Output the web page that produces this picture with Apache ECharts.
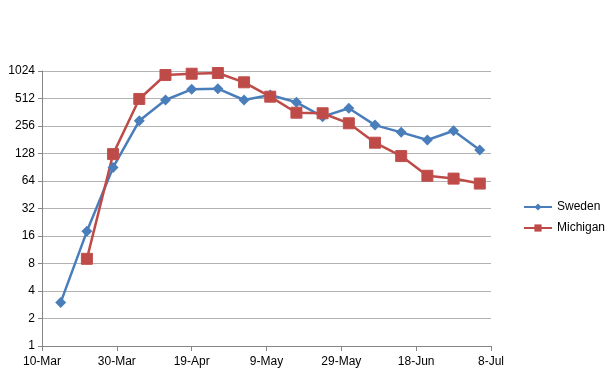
<!DOCTYPE html>
<html><head><meta charset="utf-8">
<script src="https://cdn.jsdelivr.net/npm/echarts@6/dist/echarts.min.js"></script>
<style>html,body{margin:0;padding:0;background:#fff}#c{width:606px;height:373px}</style>
</head><body><div id="c"></div>
<script>
const startDate = '2020-03-10';
const tickLabels = ['10-Mar','30-Mar','19-Apr','9-May','29-May','18-Jun','8-Jul'];
const yTickLabels = [1,2,4,8,16,32,64,128,256,512,1024];
const swedenDates = ['2020-03-15','2020-03-22','2020-03-29','2020-04-05','2020-04-12','2020-04-19','2020-04-26','2020-05-03','2020-05-10','2020-05-17','2020-05-24','2020-05-31','2020-06-07','2020-06-14','2020-06-21','2020-06-28','2020-07-05'];
const swedenValues = [3,18,90,292,493,645,656,493,559,465,324,400,262,218,180,227,140];
const michiganDates = ['2020-03-22','2020-03-29','2020-04-05','2020-04-12','2020-04-19','2020-04-26','2020-05-03','2020-05-10','2020-05-17','2020-05-24','2020-05-31','2020-06-07','2020-06-14','2020-06-21','2020-06-28','2020-07-05'];
const michiganValues = [9,126,506,926,956,974,770,536,358,353,274,168,120,73,68,60];

const DAY = 86400000;
const t0 = Date.parse(startDate);
const dayOff = d => Math.round((Date.parse(d) - t0) / DAY);
const pairs = (ds, vs) => ds.map((d, i) => [dayOff(d), vs[i]]);

const chart = echarts.init(document.getElementById('c'));
const font = 'Liberation Sans';
chart.setOption({
  animation: false,
  grid: {left: 42, right: 115, top: 71, bottom: 27, containLabel: false},
  xAxis: {
    type: 'value', min: 0, max: 120, interval: 20,
    axisLine: {show: true, lineStyle: {color: '#868686', width: 1}},
    axisTick: {show: true, length: 5, lineStyle: {color: '#868686'}},
    splitLine: {show: false},
    axisLabel: {color: '#000', fontFamily: font, fontSize: 12, margin: 10,
      formatter: v => tickLabels[Math.round(v / 20)] || ''}
  },
  yAxis: {
    type: 'log', logBase: 2, min: 1, max: 1024, interval: 1,
    axisLine: {show: true, lineStyle: {color: '#868686', width: 1}},
    axisTick: {show: true, length: 4, lineStyle: {color: '#868686'}},
    splitLine: {show: true, lineStyle: {color: '#b3b3b3', width: 1}},
    axisLabel: {color: '#000', fontFamily: font, fontSize: 12, margin: 7,
      formatter: v => String(Math.round(v))}
  },
  legend: {
    orient: 'vertical', left: 518, top: 196, itemGap: 9,
    itemWidth: 28, itemHeight: 9,
    textStyle: {color: '#000', fontFamily: font, fontSize: 12},
    data: ['Sweden', 'Michigan']
  },
  series: [
    {name: 'Sweden', type: 'line', data: pairs(swedenDates, swedenValues),
     symbol: 'diamond', symbolSize: 11, color: '#4a7ebb',
     lineStyle: {width: 2.5, color: '#4a7ebb'}, itemStyle: {color: '#4a7ebb'}},
    {name: 'Michigan', type: 'line', data: pairs(michiganDates, michiganValues),
     symbol: 'rect', symbolSize: 11, color: '#be4b48',
     lineStyle: {width: 2.5, color: '#be4b48'}, itemStyle: {color: '#be4b48', borderColor: '#c0504d'}}
  ]
});
</script></body></html>
